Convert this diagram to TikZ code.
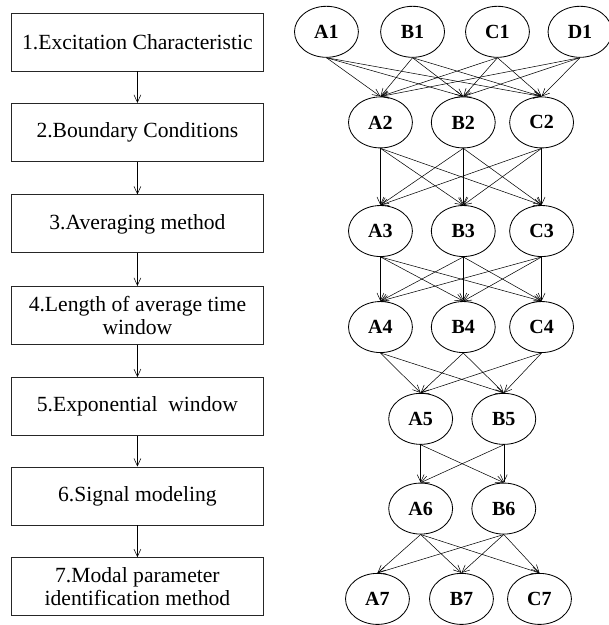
\documentclass[tikz,border=0pt]{standalone}
\usepackage{fontspec}
\setmainfont{Liberation Serif}
\usepackage{tikz}
\usetikzlibrary{shapes, arrows.meta, positioning}
\tikzstyle{stagebox}=[shape=rectangle,draw=black!85,line width=0.8pt,minimum width=8.37cm,minimum height=1.93cm,align=center,font=\fontsize{20.5}{22}\selectfont]
\tikzstyle{factor}=[shape=ellipse,draw=black,line width=0.8pt,minimum width=2.13cm,minimum height=1.7cm,inner sep=0pt,font=\fontsize{19}{22}\selectfont\bfseries]
\tikzstyle{mainedge}=[<-,>={Straight Barb[length=2.5mm,width=2.3mm]},line width=0.5pt]

\begin{document}
\begin{tikzpicture}
\useasboundingbox (0,0) rectangle (20.27,20.83);
%\draw[step=1cm,gray,very thin] (0,0) grid (20,20);

% left column
\node[stagebox] (s1) at (4.58,19.43){1.Excitation Characteristic};
\node[stagebox] (s2) at (4.58,16.42){2.Boundary Conditions};
\node[stagebox] (s3) at (4.58,13.37){3.Averaging method};
\node[stagebox] (s4) at (4.58,10.32){4.Length of average time\\window};
\node[stagebox] (s5) at (4.58,7.28){5.Exponential\ \ window};
\node[stagebox] (s6) at (4.58,4.30){6.Signal modeling};
\node[stagebox] (s7) at (4.58,1.28){7.Modal parameter\\identification method};
\draw[mainedge] (s2) -- (s1);
\draw[mainedge] (s3) -- (s2);
\draw[mainedge] (s4) -- (s3);
\draw[mainedge] (s5) -- (s4);
\draw[mainedge] (s6) -- (s5);
\draw[mainedge] (s7) -- (s6);

% right column
\node[factor] (a1) at (10.88,19.77){A1};
\node[factor] (b1) at (13.75,19.77){B1};
\node[factor] (c1) at (16.58,19.77){C1};
\node[factor] (d1) at (19.33,19.77){D1};

\node[factor] (a2) at (12.68,16.75){A2};
\node[factor] (b2) at (15.44,16.75){B2};
\node[factor] (c2) at (18.05,16.75){C2};
\path (a2.north) edge[mainedge] (a1.south) edge[mainedge] (b1.south) edge[mainedge] (c1.south) edge[mainedge] (d1.south);
\path (b2.north) edge[mainedge] (a1.south) edge[mainedge] (b1.south) edge[mainedge] (c1.south) edge[mainedge] (d1.south);
\path (c2.north) edge[mainedge] (a1.south) edge[mainedge] (b1.south) edge[mainedge] (c1.south) edge[mainedge] (d1.south);

\node[factor] (a3) at (12.68,13.13){A3};
\node[factor] (b3) at (15.44,13.13){B3};
\node[factor] (c3) at (18.05,13.13){C3};
\path (a3.north) edge[mainedge] (a2.south) edge[mainedge] (b2.south) edge[mainedge] (c2.south);
\path (b3.north) edge[mainedge] (a2.south) edge[mainedge] (b2.south) edge[mainedge] (c2.south);
\path (c3.north) edge[mainedge] (a2.south) edge[mainedge] (b2.south) edge[mainedge] (c2.south);

\node[factor] (a4) at (12.68,9.93){A4};
\node[factor] (b4) at (15.44,9.93){B4};
\node[factor] (c4) at (18.05,9.93){C4};
\path (a4.north) edge[mainedge] (a3.south) edge[mainedge] (b3.south) edge[mainedge] (c3.south);
\path (b4.north) edge[mainedge] (a3.south) edge[mainedge] (b3.south) edge[mainedge] (c3.south);
\path (c4.north) edge[mainedge] (a3.south) edge[mainedge] (b3.south) edge[mainedge] (c3.south);

\node[factor] (a5) at (14.02,6.87){A5};
\node[factor] (b5) at (16.79,6.87){B5};
\path (a5.north) edge[mainedge] (a4.south) edge[mainedge] (b4.south) edge[mainedge] (c4.south);
\path (b5.north) edge[mainedge] (a4.south) edge[mainedge] (b4.south) edge[mainedge] (c4.south);

\node[factor] (a6) at (14.02,3.88){A6};
\node[factor] (b6) at (16.79,3.88){B6};
\path (a6.north) edge[mainedge] (a5.south) edge[mainedge] (b5.south);
\path (b6.north) edge[mainedge] (a5.south) edge[mainedge] (b5.south);

\node[factor] (a7) at (12.58,0.87){A7};
\node[factor] (b7) at (15.38,0.87){B7};
\node[factor] (c7) at (17.98,0.87){C7};
\path (a7.north) edge[mainedge] (a6.south) edge[mainedge] (b6.south);
\path (b7.north) edge[mainedge] (a6.south) edge[mainedge] (b6.south);
\path (c7.north) edge[mainedge] (a6.south) edge[mainedge] (b6.south);

\end{tikzpicture}
\end{document}
